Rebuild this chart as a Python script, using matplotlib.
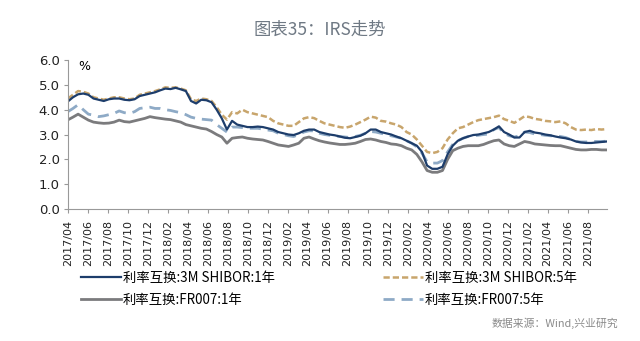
import numpy as np
import pandas as pd
import matplotlib
matplotlib.use("Agg")
import matplotlib.pyplot as plt

plt.rcParams['font.family'] = ['Noto Sans CJK SC', 'DejaVu Sans']

# roughly semi-monthly observations, 2017/04 - 2021/09
dates = pd.date_range("2017-04-01", "2021-09-28", periods=106)

shibor_1y = [4.33, 4.50, 4.62, 4.65, 4.60, 4.45, 4.40, 4.35, 4.42, 4.45,
             4.45, 4.40, 4.38, 4.42, 4.55, 4.60, 4.65, 4.70, 4.78, 4.85,
             4.83, 4.88, 4.82, 4.75, 4.35, 4.25, 4.40, 4.38, 4.30, 4.00,
             3.65, 3.20, 3.55, 3.40, 3.35, 3.30, 3.30, 3.32, 3.30, 3.25,
             3.20, 3.10, 3.05, 3.00, 2.98, 3.05, 3.15, 3.20, 3.20, 3.10,
             3.05, 3.00, 2.97, 2.92, 2.87, 2.85, 2.90, 2.95, 3.05, 3.20,
             3.20, 3.10, 3.05, 3.00, 2.92, 2.85, 2.75, 2.65, 2.55, 2.30,
             1.75, 1.62, 1.62, 1.70, 2.20, 2.55, 2.75, 2.85, 2.92, 2.98,
             3.00, 3.05, 3.10, 3.20, 3.33, 3.10, 3.00, 2.88, 2.88, 3.10,
             3.15, 3.08, 3.05, 3.00, 2.97, 2.92, 2.88, 2.85, 2.80, 2.72,
             2.68, 2.66, 2.66, 2.68, 2.70, 2.72]

shibor_5y = [4.45, 4.60, 4.75, 4.72, 4.65, 4.50, 4.45, 4.40, 4.45, 4.50,
             4.50, 4.45, 4.42, 4.45, 4.60, 4.65, 4.70, 4.75, 4.82, 4.90,
             4.88, 4.90, 4.85, 4.78, 4.42, 4.35, 4.45, 4.42, 4.35, 4.10,
             3.80, 3.60, 3.90, 3.85, 4.00, 3.90, 3.85, 3.80, 3.75, 3.70,
             3.55, 3.45, 3.40, 3.35, 3.35, 3.50, 3.65, 3.70, 3.66, 3.55,
             3.45, 3.40, 3.35, 3.30, 3.27, 3.32, 3.40, 3.50, 3.60, 3.72,
             3.68, 3.55, 3.52, 3.45, 3.40, 3.30, 3.10, 3.00, 2.80, 2.55,
             2.30, 2.25, 2.30, 2.45, 2.80, 3.05, 3.25, 3.30, 3.40, 3.50,
             3.58, 3.62, 3.66, 3.70, 3.76, 3.62, 3.55, 3.47, 3.60, 3.74,
             3.70, 3.63, 3.60, 3.55, 3.53, 3.50, 3.53, 3.45, 3.30, 3.20,
             3.18, 3.20, 3.18, 3.22, 3.20, 3.22]

fr007_1y = [3.59, 3.70, 3.82, 3.70, 3.58, 3.50, 3.47, 3.45, 3.46, 3.50,
            3.58, 3.52, 3.50, 3.55, 3.60, 3.65, 3.72, 3.68, 3.65, 3.62,
            3.60, 3.55, 3.50, 3.40, 3.35, 3.30, 3.25, 3.22, 3.12, 3.00,
            2.90, 2.65, 2.85, 2.88, 2.90, 2.85, 2.82, 2.80, 2.78, 2.72,
            2.65, 2.58, 2.55, 2.52, 2.58, 2.65, 2.85, 2.90, 2.82, 2.75,
            2.70, 2.66, 2.63, 2.60, 2.60, 2.62, 2.65, 2.72, 2.80, 2.82,
            2.78, 2.72, 2.68, 2.62, 2.60, 2.55, 2.45, 2.38, 2.20, 1.90,
            1.55, 1.48, 1.48, 1.55, 2.00, 2.35, 2.45, 2.52, 2.55, 2.55,
            2.55, 2.60, 2.68, 2.75, 2.78, 2.62, 2.55, 2.52, 2.62, 2.72,
            2.68, 2.62, 2.60, 2.58, 2.56, 2.55, 2.55, 2.50, 2.45, 2.40,
            2.38, 2.38, 2.40, 2.40, 2.38, 2.38]

fr007_5y = [3.92, 4.05, 4.20, 4.00, 3.82, 3.78, 3.72, 3.75, 3.80, 3.85,
            3.95, 3.88, 3.85, 3.92, 4.05, 4.08, 4.10, 4.05, 4.05, 4.00,
            3.97, 3.92, 3.88, 3.80, 3.70, 3.65, 3.62, 3.60, 3.58, 3.40,
            3.25, 3.10, 3.30, 3.30, 3.28, 3.25, 3.25, 3.25, 3.22, 3.18,
            3.15, 3.05, 3.00, 2.95, 2.92, 3.00, 3.10, 3.15, 3.15, 3.05,
            3.00, 2.97, 2.95, 2.92, 2.90, 2.88, 2.92, 2.97, 3.05, 3.12,
            3.10, 3.05, 3.00, 2.95, 2.90, 2.85, 2.75, 2.65, 2.50, 2.25,
            1.90, 1.85, 1.85, 1.95, 2.30, 2.60, 2.75, 2.85, 2.92, 2.95,
            2.97, 3.00, 3.02, 3.20, 3.28, 3.05, 2.95, 2.90, 2.95, 3.10,
            3.08, 3.02, 3.00, 2.97, 2.95, 2.95, 2.92, 2.88, 2.80, 2.72,
            2.70, 2.70, 2.72, 2.72, 2.72, 2.73]

tick_dates = pd.date_range("2017-04-01", "2021-08-01", freq="2MS")

fig = plt.figure(figsize=(6.4, 3.41), dpi=100)
ax = fig.add_axes([0.106, 0.387, 0.842, 0.437])

l3, = ax.plot(dates, fr007_1y, color="#7b7b7d", lw=2.0, label="利率互换:FR007:1年")
l4, = ax.plot(dates, fr007_5y, color="#8eaac6", lw=2.0, ls=(0, (4, 2.5)),
              label="利率互换:FR007:5年")
l2, = ax.plot(dates, shibor_5y, color="#c8a56c", lw=1.8, ls=(0, (2.5, 1.2)),
              label="利率互换:3M SHIBOR:5年")
l1, = ax.plot(dates, shibor_1y, color="#1d3d6b", lw=1.6, label="利率互换:3M SHIBOR:1年")

ax.set_ylim(0, 6)
ax.set_yticks(np.arange(0, 6.1, 1.0))
ax.set_yticklabels([f"{v:.1f}" for v in np.arange(0, 6.1, 1.0)], fontsize=9.5,
                   family="DejaVu Sans")
ax.set_xlim(pd.Timestamp("2017-04-01"), pd.Timestamp("2021-09-28"))
ax.set_xticks(tick_dates)
ax.set_xticklabels([d.strftime("%Y/%m") for d in tick_dates], rotation=90,
                   fontsize=8, family="DejaVu Sans")

for s in ["top", "right"]:
    ax.spines[s].set_visible(False)
for s in ["left", "bottom"]:
    ax.spines[s].set_color("#999999")
    ax.spines[s].set_linewidth(0.8)
ax.tick_params(axis="both", color="#999999", length=3, width=0.8,
               labelcolor="#222222")
ax.tick_params(axis="x", pad=5)
ax.tick_params(axis="y", pad=3)
ax.text(0.02, 1.0, "%", transform=ax.transAxes, fontsize=9, va="top",
        family="DejaVu Sans")

fig.text(0.5, 0.912, "图表35：IRS走势", ha="center", va="center",
         fontsize=12.5, color="#6f7984")

leg_kw = dict(loc="upper left", frameon=False, fontsize=9.6, handlelength=3.0,
              handletextpad=0.15, labelspacing=0.6, borderpad=0,
              borderaxespad=0)
fig.legend(handles=[l1, l3], bbox_to_anchor=(0.126, 0.205), **leg_kw)
fig.legend(handles=[l2, l4], bbox_to_anchor=(0.598, 0.205), **leg_kw)

fig.text(0.966, 0.053, "数据来源：Wind,兴业研究", ha="right", va="center",
         fontsize=7.8, color="#8a8a8a")

fig.savefig("out.png", dpi=100)
